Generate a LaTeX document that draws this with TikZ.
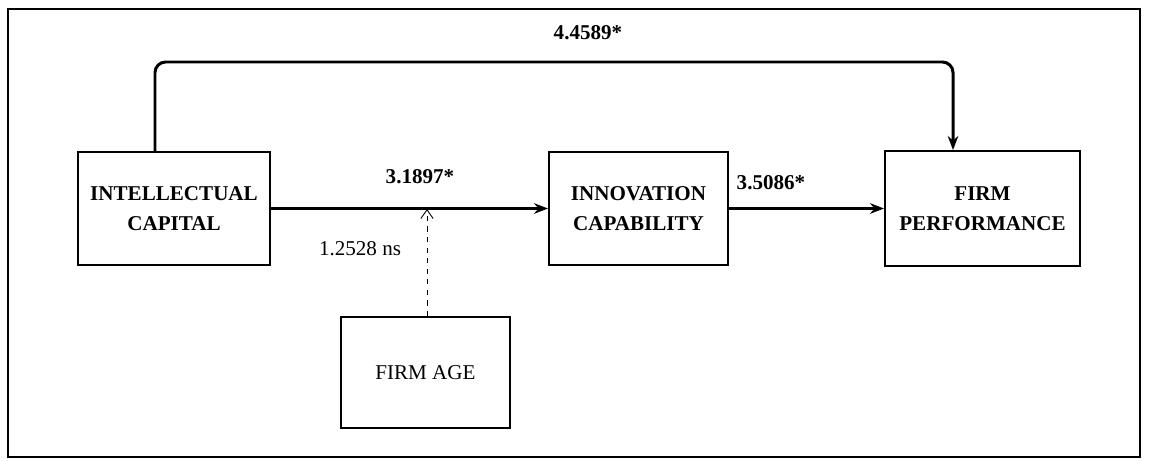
\documentclass[tikz,border=0pt]{standalone}
\usepackage{fontspec}
\setmainfont{Liberation Serif}
\usetikzlibrary{arrows.meta}

\begin{document}
\begin{tikzpicture}[x=0.02cm, y=-0.02cm, >={Stealth[length=8pt,width=6pt]},
                    var box/.style={draw, line width=1.1pt, align=center, inner sep=0pt,
                                    font=\bfseries\fontsize{12}{17}\selectfont},
                    path line/.style={->, line width=1.7pt},
                    coef/.style={font=\bfseries\fontsize{12}{14}\selectfont, inner sep=1pt}]

  % cornice e margini
  \useasboundingbox (0,0) rectangle (1149,460);
  \draw[line width=0.6pt] (8,9) rectangle (1140,457);

  % variabili
  \node[var box, minimum width=3.84cm, minimum height=2.26cm] (ic) at (174,208.5) {INTELLECTUAL\\CAPITAL};
  \node[var box, minimum width=3.58cm, minimum height=2.26cm] (inncap) at (638.5,208.5) {INNOVATION\\CAPABILITY};
  \node[var box, minimum width=3.90cm, minimum height=2.30cm] (fp) at (982.5,208.5) {FIRM\\PERFORMANCE};
  \node[var box, font=\fontsize{12}{14}\selectfont, minimum width=3.38cm, minimum height=2.22cm] (age) at (425.5,372.5) {FIRM AGE};

  % punti di appoggio
  \coordinate (top l) at (155,62);
  \coordinate (top r) at (953,62);
  \coordinate (mod) at (427,209);

  % effetto diretto (sopra)
  \draw[path line, rounded corners=6pt] (top l |- ic.north) -- (top l) -- (top r) -- (top r |- fp.north);

  \path[path line]
    (ic) edge (inncap)
    (inncap) edge (fp);

  % moderatore
  \draw[->, >={Straight Barb[length=5pt,width=7pt]}, dashed, line width=0.5pt] (age.north -| mod) -- (mod);

  % coefficienti
  \node[coef] (c direct) at (588,33) {4.4589*};
  \node[coef] (c a) at (420,177) {3.1897*};
  \node[coef] (c b) at (771,183) {3.5086*};
  \node[font=\fontsize{12}{14}\selectfont, inner sep=1pt] (c mod) at (360,249) {1.2528 ns};

\end{tikzpicture}
\end{document}
